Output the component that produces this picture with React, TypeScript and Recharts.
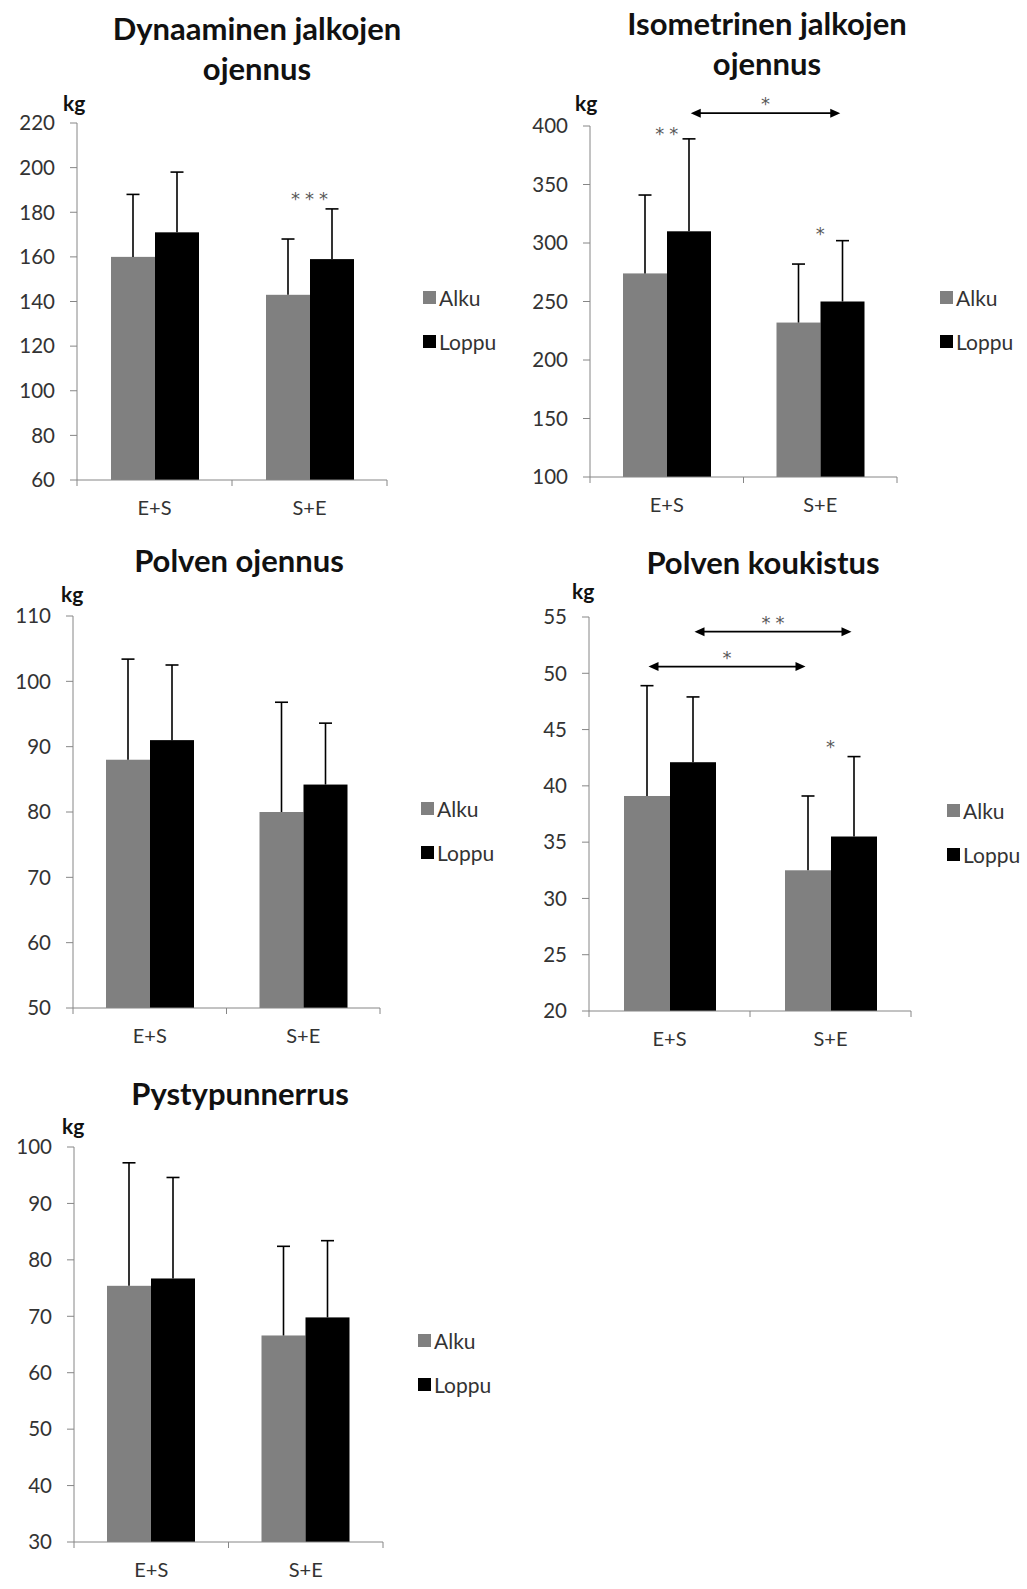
import React from "react";
import {
    BarChart,
    Bar,
    XAxis,
    YAxis,
    Legend,
    ReferenceDot,
    ReferenceLine,
} from "recharts";

const GROUPS = ["E+S", "S+E"];
const SERIES_NAMES = ["Alku", "Loppu"];
const SERIES_COLORS = ["#808080", "#000000"];

// Dynaaminen jalkojen ojennus
const dynAlku = [160, 143];
const dynLoppu = [171, 159];
const dynAlkuSd = [28, 25];
const dynLoppuSd = [27, 22.5];
const dynTicks = [60, 80, 100, 120, 140, 160, 180, 200, 220];

// Isometrinen jalkojen ojennus
const isoAlku = [274, 232];
const isoLoppu = [310, 250];
const isoAlkuSd = [67, 50];
const isoLoppuSd = [79, 52];
const isoTicks = [100, 150, 200, 250, 300, 350, 400];

// Polven ojennus
const poAlku = [88, 80];
const poLoppu = [91, 84.2];
const poAlkuSd = [15.4, 16.8];
const poLoppuSd = [11.5, 9.4];
const poTicks = [50, 60, 70, 80, 90, 100, 110];

// Polven koukistus
const pkAlku = [39.1, 32.5];
const pkLoppu = [42.1, 35.5];
const pkAlkuSd = [9.8, 6.6];
const pkLoppuSd = [5.8, 7.1];
const pkTicks = [20, 25, 30, 35, 40, 45, 50, 55];

// Pystypunnerrus
const ppAlku = [75.4, 66.6];
const ppLoppu = [76.7, 69.8];
const ppAlkuSd = [21.8, 15.8];
const ppLoppuSd = [17.9, 13.6];
const ppTicks = [30, 40, 50, 60, 70, 80, 90, 100];

// significance marks
const dynStars = [{ group: "S+E", y: 187.7, text: "***" }];
const isoStars = [
    { group: "E+S", y: 397, text: "**" },
    { group: "S+E", y: 311, text: "*" },
];
const isoCompares = [{ series: 1, y: 411, text: "*" }];
const pkStars = [{ group: "S+E", y: 43.8, text: "*" }];
const pkCompares = [
    { series: 0, y: 50.6, text: "*" },
    { series: 1, y: 53.7, text: "**" },
];

const FONT = "Lato, 'Open Sans', sans-serif";
const STAR_FONT = "'DejaVu Sans', sans-serif";
const AXIS = "#868686";
const TEXT = "#333333";
const STAR = "#595959";

const Y_AXIS_W = 77;
const M_TOP = 50;
const M_RIGHT = 140;
const M_BOTTOM = 20;
const X_AXIS_H = 30;

type Star = { group: string; y: number; text: string };
type Compare = { series: number; y: number; text: string };

interface PanelProps {
    title: string[];
    titleX: number;
    titleY: number;
    kgX: number;
    kgY: number;
    x0: number;
    x1: number;
    yTop: number;
    yBot: number;
    barSize: number;
    alku: number[];
    loppu: number[];
    alkuSd: number[];
    loppuSd: number[];
    ticks: number[];
    stars?: Star[];
    compares?: Compare[];
    legendX: number;
    legendY: number;
}

// bar rect + upward-only error whisker
function barShape(min: number, key: string, sdKey: string, fill: string) {
    return (props: any) => {
        const { x, y, width, height, payload } = props;
        const k = height / (payload[key] - min);
        const top = y - payload[sdKey] * k;
        const cx = x + width / 2;
        return (
            <g>
                <rect x={x} y={y} width={width} height={height} fill={fill} />
                <line x1={cx} y1={y} x2={cx} y2={top} stroke="#000" strokeWidth={1.6} />
                <line x1={cx - 6.5} y1={top} x2={cx + 6.5} y2={top} stroke="#000" strokeWidth={1.6} />
            </g>
        );
    };
}

function Panel(p: PanelProps) {
    const rows = GROUPS.map((g, i) => ({
        group: g,
        alku: p.alku[i],
        loppu: p.loppu[i],
        alkuSd: p.alkuSd[i],
        loppuSd: p.loppuSd[i],
    }));
    const min = p.ticks[0];
    const max = p.ticks[p.ticks.length - 1];
    const plotW = p.x1 - p.x0;
    const band = plotW / GROUPS.length;
    const left = p.x0 - Y_AXIS_W;
    const top = p.yTop - M_TOP;
    const width = Y_AXIS_W + plotW + M_RIGHT;
    const height = M_TOP + (p.yBot - p.yTop) + X_AXIS_H + M_BOTTOM;

    const xTick = (t: any) => {
        const bx = t.x - band / 2;
        return (
            <g>
                <line x1={bx} y1={t.y} x2={bx} y2={t.y + 6} stroke={AXIS} />
                {t.index === GROUPS.length - 1 && (
                    <line x1={t.x + band / 2} y1={t.y} x2={t.x + band / 2} y2={t.y + 6} stroke={AXIS} />
                )}
                <text x={t.x} y={t.y + 35} textAnchor="middle" fontSize={20} fill={TEXT} fontFamily={FONT}>
                    {t.payload.value}
                </text>
            </g>
        );
    };

    const starText = (x: number, y: number, text: string) => (
        <text
            x={x + 2.5}
            y={y}
            textAnchor="middle"
            fontSize={18}
            letterSpacing={5}
            fill={STAR}
            fontFamily={STAR_FONT}
        >
            {text}
        </text>
    );

    return (
        <>
            {p.title.map((line, i) => (
                <div
                    key={line}
                    style={{
                        position: "absolute",
                        left: p.titleX,
                        top: p.titleY + i * 40,
                        transform: "translate(-50%, -50%)",
                        whiteSpace: "nowrap",
                        fontFamily: FONT,
                        fontWeight: 700,
                        fontSize: 31,
                        color: "#111",
                    }}
                >
                    {line}
                </div>
            ))}
            <div
                style={{
                    position: "absolute",
                    left: p.kgX,
                    top: p.kgY,
                    transform: "translateY(-50%)",
                    fontFamily: FONT,
                    fontWeight: 700,
                    fontSize: 21,
                    color: "#111",
                }}
            >
                kg
            </div>
            <div style={{ position: "absolute", left, top }}>
                <BarChart
                    width={width}
                    height={height}
                    data={rows}
                    barGap={0}
                    margin={{ top: M_TOP, right: M_RIGHT, bottom: M_BOTTOM, left: 0 }}
                >
                    <XAxis
                        dataKey="group"
                        interval={0}
                        height={X_AXIS_H}
                        tickLine={false}
                        tickSize={0}
                        tickMargin={0}
                        axisLine={{ stroke: AXIS }}
                        tick={xTick}
                    />
                    <YAxis
                        width={Y_AXIS_W}
                        domain={[min, max]}
                        ticks={p.ticks}
                        interval={0}
                        tickSize={7}
                        tickMargin={15}
                        axisLine={{ stroke: AXIS }}
                        tickLine={{ stroke: AXIS }}
                        tick={{ fontSize: 20.5, fill: TEXT, fontFamily: FONT }}
                    />
                    <Bar
                        dataKey="alku"
                        name={SERIES_NAMES[0]}
                        fill={SERIES_COLORS[0]}
                        barSize={p.barSize}
                        isAnimationActive={false}
                        shape={barShape(min, "alku", "alkuSd", SERIES_COLORS[0])}
                    />
                    <Bar
                        dataKey="loppu"
                        name={SERIES_NAMES[1]}
                        fill={SERIES_COLORS[1]}
                        barSize={p.barSize}
                        isAnimationActive={false}
                        shape={barShape(min, "loppu", "loppuSd", SERIES_COLORS[1])}
                    />
                    {(p.stars || []).map((s, i) => (
                        <ReferenceDot
                            key={"s" + i}
                            x={s.group}
                            y={s.y}
                            r={0}
                            ifOverflow="visible"
                            shape={(d: any) => starText(d.cx, d.cy + 10, s.text)}
                        />
                    ))}
                    {(p.compares || []).map((c, i) => {
                        const dx = (c.series === 0 ? -1 : 1) * (p.barSize / 2);
                        return (
                            <ReferenceLine
                                key={"c" + i}
                                segment={[
                                    { x: GROUPS[0], y: c.y },
                                    { x: GROUPS[1], y: c.y },
                                ]}
                                ifOverflow="visible"
                                shape={(l: any) => {
                                    const a = l.x1 + dx + 2;
                                    const b = l.x2 + dx - 2;
                                    const yy = l.y1;
                                    return (
                                        <g>
                                            <line x1={a + 6} y1={yy} x2={b - 6} y2={yy} stroke="#000" strokeWidth={1.8} />
                                            <polygon points={`${a},${yy} ${a + 10},${yy - 4.5} ${a + 10},${yy + 4.5}`} fill="#000" />
                                            <polygon points={`${b},${yy} ${b - 10},${yy - 4.5} ${b - 10},${yy + 4.5}`} fill="#000" />
                                            {starText((a + b) / 2, yy - 3, c.text)}
                                        </g>
                                    );
                                }}
                            />
                        );
                    })}
                    <Legend
                        layout="vertical"
                        align="center"
                        verticalAlign="middle"
                        width={110}
                        wrapperStyle={{ left: p.legendX - left, top: p.legendY - 22 - top }}
                        content={() => (
                            <div style={{ fontFamily: FONT, fontSize: 21, color: TEXT }}>
                                {SERIES_NAMES.map((n, i) => (
                                    <div key={n} style={{ display: "flex", alignItems: "center", height: 44 }}>
                                        <span
                                            style={{
                                                display: "inline-block",
                                                width: 13,
                                                height: 13,
                                                background: SERIES_COLORS[i],
                                                marginRight: 3,
                                            }}
                                        />
                                        {n}
                                    </div>
                                ))}
                            </div>
                        )}
                    />
                </BarChart>
            </div>
        </>
    );
}

export default function App() {
    return (
        <div
            style={{
                position: "absolute",
                left: 0,
                top: 0,
                width: 1027,
                height: 1589,
                background: "#fff",
                overflow: "hidden",
            }}
        >
            <Panel
                title={["Dynaaminen jalkojen", "ojennus"]}
                titleX={257}
                titleY={28}
                kgX={63}
                kgY={102}
                x0={77}
                x1={387}
                yTop={123}
                yBot={480}
                barSize={44}
                alku={dynAlku}
                loppu={dynLoppu}
                alkuSd={dynAlkuSd}
                loppuSd={dynLoppuSd}
                ticks={dynTicks}
                stars={dynStars}
                legendX={423}
                legendY={297}
            />
            <Panel
                title={["Isometrinen jalkojen", "ojennus"]}
                titleX={767}
                titleY={23}
                kgX={575}
                kgY={102}
                x0={590}
                x1={897}
                yTop={126}
                yBot={477}
                barSize={44}
                alku={isoAlku}
                loppu={isoLoppu}
                alkuSd={isoAlkuSd}
                loppuSd={isoLoppuSd}
                ticks={isoTicks}
                stars={isoStars}
                compares={isoCompares}
                legendX={940}
                legendY={297}
            />
            <Panel
                title={["Polven ojennus"]}
                titleX={239}
                titleY={560}
                kgX={61}
                kgY={593}
                x0={73}
                x1={380}
                yTop={616}
                yBot={1008}
                barSize={44}
                alku={poAlku}
                loppu={poLoppu}
                alkuSd={poAlkuSd}
                loppuSd={poLoppuSd}
                ticks={poTicks}
                legendX={421}
                legendY={808}
            />
            <Panel
                title={["Polven koukistus"]}
                titleX={763}
                titleY={562}
                kgX={572}
                kgY={590}
                x0={589}
                x1={911}
                yTop={617}
                yBot={1011}
                barSize={46}
                alku={pkAlku}
                loppu={pkLoppu}
                alkuSd={pkAlkuSd}
                loppuSd={pkLoppuSd}
                ticks={pkTicks}
                stars={pkStars}
                compares={pkCompares}
                legendX={947}
                legendY={810}
            />
            <Panel
                title={["Pystypunnerrus"]}
                titleX={240}
                titleY={1093}
                kgX={62}
                kgY={1125}
                x0={74}
                x1={383}
                yTop={1147}
                yBot={1542}
                barSize={44}
                alku={ppAlku}
                loppu={ppLoppu}
                alkuSd={ppAlkuSd}
                loppuSd={ppLoppuSd}
                ticks={ppTicks}
                legendX={418}
                legendY={1340}
            />
        </div>
    );
}
